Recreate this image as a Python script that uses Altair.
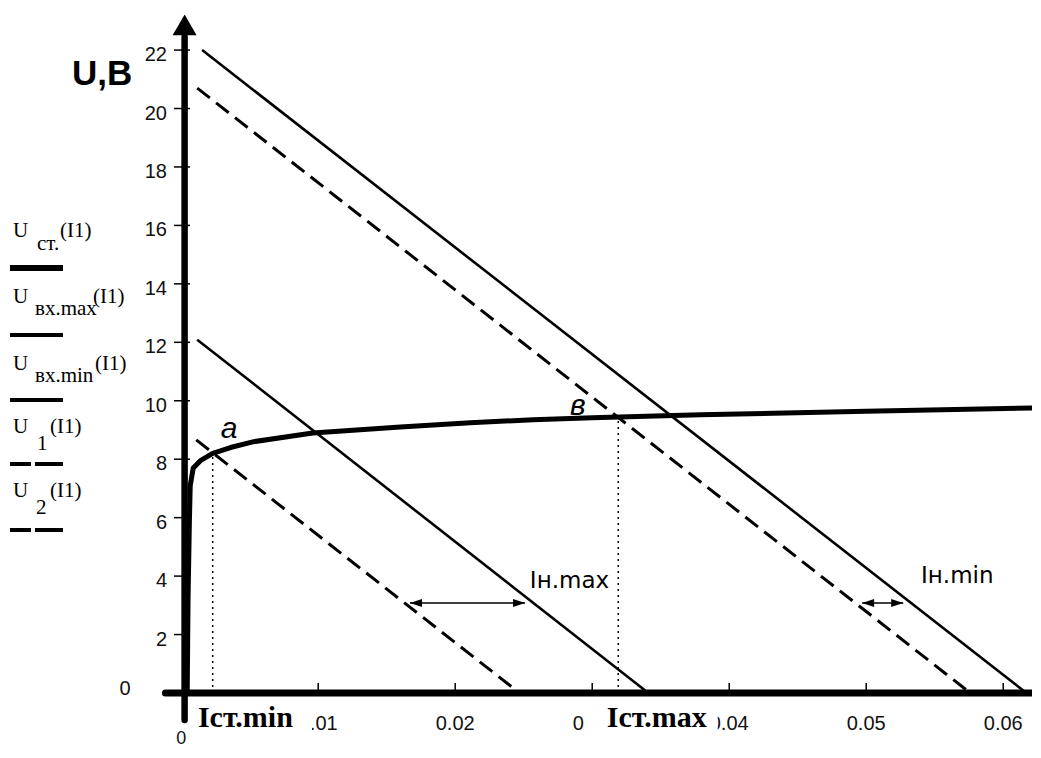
import altair as alt
import pandas as pd

# ---------------- data ----------------
# stabilitron characteristic U_ст(I1)
stab_I = [0.00044, 0.0005, 0.0006, 0.00066, 0.00088, 0.0014, 0.0023, 0.0036,
          0.0053, 0.0096, 0.016, 0.0211, 0.0257, 0.030, 0.0379, 0.050, 0.0628]
stab_U = [0.0, 3.2, 5.9, 7.1, 7.7, 7.95, 8.2, 8.4,
          8.6, 8.9, 9.1, 9.25, 9.35, 9.42, 9.52, 9.64, 9.76]

# load lines
vxmax_I = [0.00153, 0.0617]
vxmax_U = [22.0, 0.0]
vxmin_I = [0.00117, 0.0341]
vxmin_U = [12.09, 0.0]
u1_I = [0.00117, 0.0576]
u1_U = [20.7, 0.0]
u2_I = [0.0011, 0.0247]
u2_U = [8.66, 0.0]

# axis ticks
y_ticks = [2, 4, 6, 8, 10, 12, 14, 16, 18, 20, 22]
x_ticks = [0.01, 0.02, 0.03, 0.04, 0.05, 0.06]
x_tick_labels = ["0.01", "0.02", "0.03", "0.04", "0.05", "0.06"]

# characteristic points
ist_min_I, ist_min_U = 0.0023, 8.2
ist_max_I, ist_max_U = 0.0319, 9.45
arrow_max_I = [0.0167, 0.0251]
arrow_min_I = [0.0497, 0.0527]
arrow_U = 3.08

# ---------------- layout ----------------
X_DOMAIN = [-0.0014, 0.0621]
Y_DOMAIN = [0.0, 23.2]
W, H = 870, 678
OX, OY = 162, 15  # page position of the plot origin

xs = alt.Scale(domain=X_DOMAIN, nice=False, zero=False)
ys = alt.Scale(domain=Y_DOMAIN, nice=False, zero=False)


def X(f):
    return alt.X(f, type="quantitative", scale=xs, axis=None)


def Y(f):
    return alt.Y(f, type="quantitative", scale=ys, axis=None)


def PX(f):
    return alt.X(f, type="quantitative", scale=None)


def PY(f):
    return alt.Y(f, type="quantitative", scale=None)


def line_df(I, U):
    return pd.DataFrame({"I": I, "U": U, "k": list(range(len(I)))})


SERIF = "Liberation Serif"
SANS = "Liberation Sans"

# ---- tick labels ----
ylab = alt.Chart(pd.DataFrame({"U": y_ticks, "t": [str(v) for v in y_ticks]})).mark_text(
    align="right", baseline="alphabetic", dy=11, font=SANS, fontSize=20, color="#111"
).encode(x=alt.value(167 - OX), y=Y("U"), text="t:N")

xlab = alt.Chart(pd.DataFrame({"I": x_ticks, "t": x_tick_labels})).mark_text(
    align="center", baseline="alphabetic", font=SANS, fontSize=20, color="#111"
).encode(x=X("I"), y=alt.value(730 - OY), text="t:N")

zero_y = alt.Chart(pd.DataFrame({"t": ["0"]})).mark_text(
    align="center", baseline="alphabetic", font=SANS, fontSize=20, color="#111"
).encode(x=alt.value(125 - OX), y=alt.value(695 - OY), text="t:N")

zero_x = alt.Chart(pd.DataFrame({"I": [0.0], "t": ["0"]})).mark_text(
    align="center", baseline="alphabetic", font=SANS, fontSize=18, color="#111"
).encode(x=X("I"), y=alt.value(744 - OY), text="t:N")

# ---- white boxes behind Iст labels ----
boxes = alt.Chart(pd.DataFrame({
    "x1": [0.0010, 0.0294], "x2": [0.00955, 0.03916],
    "y1": [-0.17, -0.17], "y2": [-1.5, -1.5]})).mark_rect(color="white").encode(
    x=X("x1"), x2=alt.X2("x2"), y=Y("y1"), y2=alt.Y2("y2"))

ist_labels = alt.Chart(pd.DataFrame({
    "I": [0.00122, 0.03107], "U": [-1.16, -1.16], "t": ["Iст.min", "Iст.max"]})).mark_text(
    align="left", baseline="alphabetic", font=SERIF, fontSize=30, fontWeight="bold", color="black"
).encode(x=X("I"), y=Y("U"), text="t:N")

# ---- dotted verticals ----
dotted = alt.Chart(pd.DataFrame({
    "I": [ist_min_I, ist_max_I], "y1": [0.0, 0.0], "y2": [ist_min_U, ist_max_U]})).mark_rule(
    color="black", strokeWidth=1.5, strokeDash=[2, 4]).encode(x=X("I"), y=Y("y1"), y2=alt.Y2("y2"))

# ---- curves ----
def solid(I, U):
    return alt.Chart(line_df(I, U)).mark_line(color="black", strokeWidth=2.6).encode(
        x=X("I"), y=Y("U"), order="k:Q")


def dashed(I, U):
    return alt.Chart(line_df(I, U)).mark_line(color="black", strokeWidth=3, strokeDash=[16, 8]).encode(
        x=X("I"), y=Y("U"), order="k:Q")


l_vxmax = solid(vxmax_I, vxmax_U)
l_vxmin = solid(vxmin_I, vxmin_U)
l_u1 = dashed(u1_I, u1_U)
l_u2 = dashed(u2_I, u2_U)

l_stab = alt.Chart(line_df(stab_I, stab_U)).mark_line(
    color="black", strokeWidth=5, strokeJoin="round", strokeCap="round").encode(
    x=X("I"), y=Y("U"), order="k:Q")

# ---- axes ----
y_axis = alt.Chart(pd.DataFrame({"I": [0.00025], "y1": [-0.92], "y2": [22.45]})).mark_rule(
    color="black", strokeWidth=6.5, strokeCap="round").encode(x=X("I"), y=Y("y1"), y2=alt.Y2("y2"))
x_axis = alt.Chart(pd.DataFrame({"x1": [-0.00115], "x2": [0.0628], "U": [0.0]})).mark_rule(
    color="black", strokeWidth=7, strokeCap="round").encode(x=X("x1"), x2=alt.X2("x2"), y=Y("U"))
arrow_top = alt.Chart(pd.DataFrame({"I": [0.00025], "U": [22.86]})).mark_point(
    shape="triangle-up", filled=True, size=576, color="black", opacity=1, strokeWidth=0).encode(
    x=X("I"), y=Y("U"))
y_tick_marks = alt.Chart(pd.DataFrame({"U": y_ticks})).mark_rule(color="black", strokeWidth=1.5).encode(
    x=alt.value(174 - OX), x2=alt.value(190 - OX), y=Y("U"))
x_tick_marks = alt.Chart(pd.DataFrame({"I": x_ticks})).mark_rule(color="black", strokeWidth=1.5).encode(
    x=X("I"), y=alt.value(683 - OY), y2=alt.value(693 - OY))

# ---- double arrows ----
arr_df = pd.DataFrame({"x1": [arrow_max_I[0], arrow_min_I[0]], "x2": [arrow_max_I[1], arrow_min_I[1]],
                       "U": [arrow_U, arrow_U]})
arr_line = alt.Chart(arr_df).mark_rule(color="black", strokeWidth=1.5).encode(
    x=X("x1"), x2=alt.X2("x2"), y=Y("U"))
arr_left = alt.Chart(arr_df).mark_point(
    shape="M-1,0L1,-0.65L1,0.65Z", filled=True, size=144, color="black", opacity=1,
    strokeWidth=0, xOffset=6).encode(x=X("x1"), y=Y("U"))
arr_right = alt.Chart(arr_df).mark_point(
    shape="M1,0L-1,-0.65L-1,0.65Z", filled=True, size=144, color="black", opacity=1,
    strokeWidth=0, xOffset=-6).encode(x=X("x2"), y=Y("U"))

# ---- annotations ----
in_labels = alt.Chart(pd.DataFrame({"I": [0.02545, 0.0540], "U": [3.6, 3.77],
                                    "t": ["Iн.max", "Iн.min"]})).mark_text(
    align="left", baseline="alphabetic", font="DejaVu Sans", fontSize=23, color="black"
).encode(x=X("I"), y=Y("U"), text="t:N")

pt_labels = alt.Chart(pd.DataFrame({"I": [0.00349, 0.02895], "U": [8.73, 9.52],
                                    "t": ["а", "в"]})).mark_text(
    align="center", baseline="alphabetic", font=SANS, fontSize=30, fontStyle="italic", color="black"
).encode(x=X("I"), y=Y("U"), text="t:N")

y_title = alt.Chart(pd.DataFrame({"t": ["U,В"]})).mark_text(
    align="left", baseline="alphabetic", font=SANS, fontSize=35, fontWeight="bold", color="black"
).encode(x=alt.value(72 - OX), y=alt.value(85 - OY), text="t:N")

# ---- legend (page pixel layout) ----
leg_text = [
    ("U", 13, 237), ("ст.", 37, 250), ("(I1)", 60, 237),
    ("U", 13, 303), ("вх.max", 35, 315), ("(I1)", 93, 303),
    ("U", 13, 370), ("вх.min", 35, 382), ("(I1)", 95, 370),
    ("U", 13, 433), ("1", 37, 450), ("(I1)", 50, 433),
    ("U", 13, 497), ("2", 36, 514), ("(I1)", 50, 497),
]
leg_text_df = pd.DataFrame({"t": [a[0] for a in leg_text],
                            "px": [a[1] - OX for a in leg_text],
                            "py": [a[2] - OY for a in leg_text]})
legend_text = alt.Chart(leg_text_df).mark_text(
    align="left", baseline="alphabetic", font=SERIF, fontSize=21, color="black"
).encode(x=PX("px"), y=PY("py"), text="t:N")

leg_lines = [
    (10, 63, 268, 6), (10, 63, 335, 4), (10, 63, 400, 4),
    (10, 31, 464, 4), (35, 63, 464, 4), (10, 31, 530, 4), (35, 63, 530, 4),
]
leg_lines_df = pd.DataFrame({"x1": [a[0] - OX for a in leg_lines], "x2": [a[1] - OX for a in leg_lines],
                             "py": [a[2] - OY for a in leg_lines], "w": [a[3] for a in leg_lines]})
legend_lines = alt.Chart(leg_lines_df).mark_rule(color="black").encode(
    x=PX("x1"), x2=alt.X2("x2"), y=PY("py"),
    strokeWidth=alt.StrokeWidth("w:Q", scale=None, legend=None))

chart = alt.layer(
    ylab, xlab, zero_y, zero_x,
    boxes, ist_labels,
    dotted,
    l_vxmax, l_vxmin, l_u1, l_u2,
    l_stab,
    y_axis, x_axis, arrow_top, y_tick_marks, x_tick_marks,
    arr_line, arr_left, arr_right,
    in_labels, pt_labels, y_title,
    legend_text, legend_lines,
).properties(
    width=W, height=H,
    autosize=alt.AutoSizeParams(type="none"),
    padding={"left": 154, "top": 7, "right": 0, "bottom": 57},
    background="white",
).configure_view(strokeWidth=0)

chart.save("out.html", embed_options={"renderer": "svg", "actions": False})
